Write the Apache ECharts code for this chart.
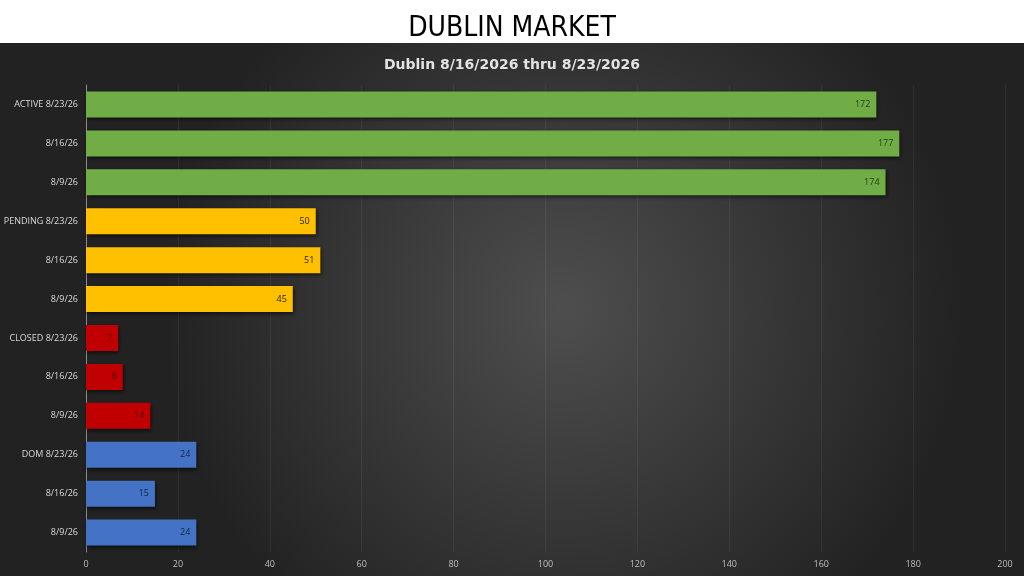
<!DOCTYPE html>
<html lang="en">
<head>
    <meta charset="UTF-8">
    <title>Dublin Market</title>
    <style>
        html,body{margin:0;padding:0;background:#fff;}
        #main{width:1024px;height:576px;}
    </style>
</head>
<body>
<div id="main"></div>
<script src="https://cdn.jsdelivr.net/npm/echarts@6/dist/echarts.min.js"></script>
<script>
    // rows top to bottom
    const labels = ['ACTIVE 8/23/26','8/16/26','8/9/26',
                    'PENDING 8/23/26','8/16/26','8/9/26',
                    'CLOSED 8/23/26','8/16/26','8/9/26',
                    'DOM 8/23/26','8/16/26','8/9/26'];
    const values = [172,177,174, 50,51,45, 7,8,14, 24,15,24];
    const groups = ['active','active','active','pending','pending','pending',
                    'closed','closed','closed','dom','dom','dom'];
    const xTicks = [0,20,40,60,80,100,120,140,160,180,200];

    const barColor = {active:'#70ad47', pending:'#ffc000', closed:'#c00000', dom:'#4472c4'};
    const textColor = {active:'#1e3d10', pending:'#2a2200', closed:'#5a0000', dom:'#10244d'};

    const myChart = echarts.init(document.getElementById('main'));

    const option = {
        animation:false,
        title:[
            {
                text:'DUBLIN MARKET',
                left:'center',
                top:10,
                textStyle:{fontFamily:'"Liberation Sans Narrow","DejaVu Sans Condensed",sans-serif',fontSize:28,fontWeight:'normal',color:'#000'}
            },
            {
                text:'Dublin 8/16/2026 thru 8/23/2026',
                left:'center',
                top:53,
                textStyle:{fontFamily:'"DejaVu Sans",sans-serif',fontSize:14,fontWeight:'bold',color:'#e3e3e3'}
            }
        ],
        graphic:[
            {
                type:'rect', z:-10, silent:true,
                shape:{x:0,y:43,width:1024,height:533},
                style:{fill:new echarts.graphic.RadialGradient(0.55,0.5,0.75,[
                    {offset:0,color:'#4e4e4e'},
                    {offset:1,color:'#222222'}
                ])}
            }
        ],
        grid:{left:86,right:19,top:85,bottom:24},
        xAxis:{
            type:'value',
            min:0,max:200,interval:20,
            axisLabel:{color:'#bfbfbf',fontSize:9,fontFamily:'"Open Sans",sans-serif',margin:8,
                formatter:v=>xTicks.includes(v)?String(v):''},
            axisLine:{show:false},
            axisTick:{show:false},
            splitLine:{lineStyle:{color:'rgba(255,255,255,0.06)'}}
        },
        yAxis:{
            type:'category',
            inverse:true,
            data:labels,
            axisLabel:{color:'#d9d9d9',fontSize:9,fontFamily:'"Open Sans",sans-serif',margin:8},
            axisLine:{lineStyle:{color:'#8c8c8c'}},
            axisTick:{show:false}
        },
        series:[
            {
                type:'bar',
                barWidth:26,
                data:values.map((v,i)=>({
                    value:v,
                    itemStyle:{color:barColor[groups[i]]},
                    label:{color:textColor[groups[i]]}
                })),
                itemStyle:{shadowColor:'rgba(0,0,0,0.6)',shadowBlur:4,shadowOffsetX:1,shadowOffsetY:2},
                label:{show:true,position:'insideRight',distance:6,fontSize:9,fontFamily:'"Open Sans",sans-serif'}
            }
        ]
    };

    myChart.setOption(option);
</script>
</body>
</html>
